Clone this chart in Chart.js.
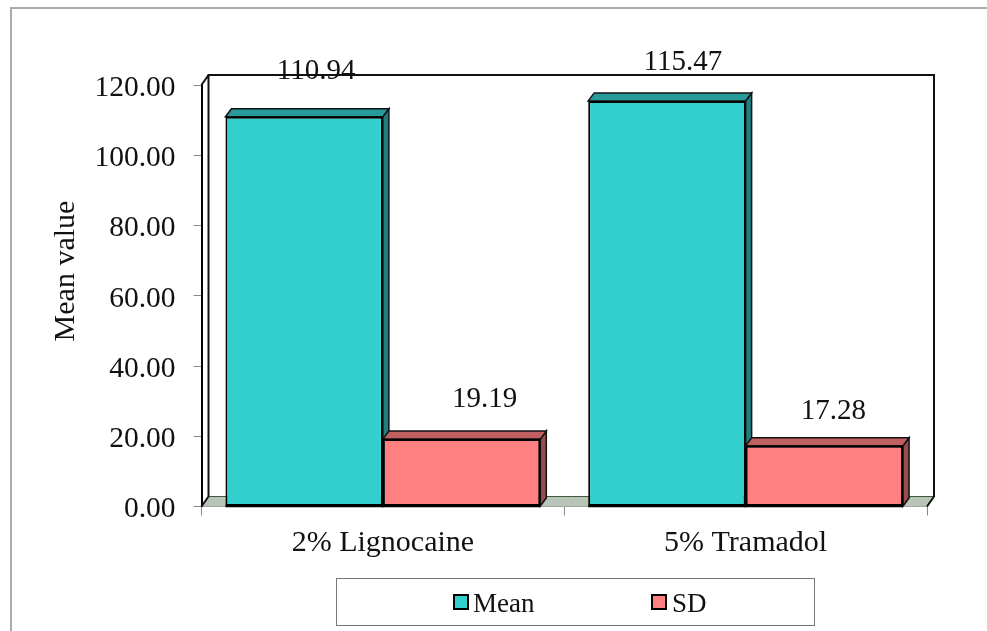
<!DOCTYPE html>
<html>
<head>
<meta charset="utf-8">
<script src="https://cdn.jsdelivr.net/npm/chart.js@4"></script>
<style>
  html, body { margin: 0; background: #fff; }
  #wrap { position: relative; width: 987px; height: 631px; overflow: hidden; font-family: "Liberation Serif", serif; color: #111; }
  #frame { position: absolute; left: 10px; top: 7px; width: 990px; height: 640px; border: 2px solid #aaa; }
  #legend { position: absolute; left: 336px; top: 578px; width: 477px; height: 46px; border: 1px solid #777; font-size: 27px; }
  #legend span { position: absolute; top: 8px; line-height: 32px; white-space: nowrap; }
  #legend i { position: absolute; top: 15px; width: 12px; height: 12px; border: 2px solid #000; }
  canvas { position: absolute; left: 0; top: 0; }
</style>
</head>
<body>
<div id="wrap">
  <div id="frame"></div>
  <canvas id="chart" width="987" height="631"></canvas>
  <div id="legend"></div>
</div>
<script>
const categories = ['2% Lignocaine', '5% Tramadol'];
const meanValues = [110.94, 115.47];
const sdValues = [19.19, 17.28];
const yTicks = [0, 20, 40, 60, 80, 100, 120];

// front, top, side
const meanColors = ['#33CFCF', '#289A9A', '#1F7F7F'];
const sdColors = ['#FF8080', '#C06060', '#954D4D'];

const FONT = '"Liberation Serif", serif';
const BAR_DEPTH = { x: 6, y: 8 };
const WALL_DEPTH = { x: 7, y: 10 };
// hand placed data labels in the original, offset from bar centre / bar top
const labelNudge = [[[12, -45], [16, -39]], [[23, -40], [9, -34]]];

const poly = (ctx, pts, fill, stroke, lw) => {
  ctx.beginPath();
  pts.forEach((p, i) => i ? ctx.lineTo(p[0], p[1]) : ctx.moveTo(p[0], p[1]));
  ctx.closePath();
  if (fill) { ctx.fillStyle = fill; ctx.fill(); }
  if (stroke) { ctx.strokeStyle = stroke; ctx.lineWidth = lw; ctx.stroke(); }
};

const drawDepth = (ctx, meta, colors) => {
  meta.data.forEach(bar => {
    const p = bar.getProps(['x', 'y', 'base', 'width'], true);
    const l = p.x - p.width / 2, r = p.x + p.width / 2;
    const dx = BAR_DEPTH.x, dy = BAR_DEPTH.y;
    poly(ctx, [[r, p.base], [r + dx, p.base - dy], [r + dx, p.y - dy], [r, p.y]], colors[2], '#111', 1.5);
    poly(ctx, [[l, p.y], [l + dx, p.y - dy], [r + dx, p.y - dy], [r, p.y]], colors[1], '#111', 1.5);
  });
};

const walls = {
  id: 'walls',
  beforeDatasetsDraw(chart) {
    const { ctx, chartArea: a } = chart;
    const dx = WALL_DEPTH.x, dy = WALL_DEPTH.y;
    ctx.save();
    // floor
    poly(ctx, [[a.left, a.bottom], [a.left + dx, a.bottom - dy], [a.right + dx, a.bottom - dy], [a.right, a.bottom]], '#B7C4B7', null);
    ctx.strokeStyle = '#3d5a3d';
    ctx.lineWidth = 1;
    ctx.beginPath();
    ctx.moveTo(a.left + dx, a.bottom - dy);
    ctx.lineTo(a.right + dx, a.bottom - dy);
    ctx.stroke();
    // back wall
    ctx.strokeStyle = '#111';
    ctx.lineWidth = 2;
    ctx.beginPath();
    ctx.moveTo(a.left + dx, a.bottom - dy);
    ctx.lineTo(a.left + dx, a.top - dy);
    ctx.lineTo(a.right + dx, a.top - dy);
    ctx.lineTo(a.right + dx, a.bottom - dy);
    ctx.lineTo(a.right, a.bottom);
    ctx.moveTo(a.left, a.bottom);
    ctx.lineTo(a.left + dx, a.bottom - dy);
    ctx.moveTo(a.left, a.top);
    ctx.lineTo(a.left + dx, a.top - dy);
    ctx.stroke();
    ctx.restore();
  }
};

// Chart.js paints the first dataset last, so SD goes again on top of the Mean side face
const barDepth = {
  id: 'barDepth',
  beforeDatasetDraw(chart, args) {
    if (args.index !== 0) return;
    chart.ctx.save();
    drawDepth(chart.ctx, args.meta, meanColors);
    chart.ctx.restore();
  },
  afterDatasetsDraw(chart) {
    const { ctx } = chart;
    const meta = chart.getDatasetMeta(1);
    ctx.save();
    drawDepth(ctx, meta, sdColors);
    meta.data.forEach(bar => bar.draw(ctx));
    // heavy foot line under the bars
    ctx.strokeStyle = '#000';
    ctx.lineWidth = 2.5;
    chart.data.datasets.forEach((ds, d) => {
      chart.getDatasetMeta(d).data.forEach(bar => {
        const p = bar.getProps(['x', 'base', 'width'], true);
        ctx.beginPath();
        ctx.moveTo(p.x - p.width / 2, p.base);
        ctx.lineTo(p.x + p.width / 2, p.base);
        ctx.stroke();
      });
    });
    ctx.restore();
  }
};

const valueLabels = {
  id: 'valueLabels',
  afterDraw(chart) {
    const { ctx } = chart;
    ctx.save();
    ctx.font = '29px ' + FONT;
    ctx.fillStyle = '#111';
    ctx.textAlign = 'center';
    ctx.textBaseline = 'middle';
    chart.data.datasets.forEach((ds, d) => {
      chart.getDatasetMeta(d).data.forEach((bar, i) => {
        const n = labelNudge[d][i];
        ctx.fillText(ds.data[i].toFixed(2), bar.x + n[0], bar.y + n[1]);
      });
    });
    // axis title sits above the axis middle in the original
    ctx.font = '30px ' + FONT;
    ctx.translate(66, 271);
    ctx.rotate(-Math.PI / 2);
    ctx.fillText('Mean value', 0, 0);
    ctx.restore();
  }
};

new Chart(document.getElementById('chart'), {
  type: 'bar',
  data: {
    labels: categories,
    datasets: [
      { label: 'Mean', data: meanValues, backgroundColor: meanColors[0] },
      { label: 'SD', data: sdValues, backgroundColor: sdColors[0] }
    ]
  },
  plugins: [walls, barDepth, valueLabels],
  options: {
    responsive: false,
    animation: false,
    layout: { padding: { left: 50, right: 60, top: 85, bottom: 59.5 } },
    datasets: { bar: { categoryPercentage: 0.868, barPercentage: 1, borderColor: '#000', borderWidth: 2, borderSkipped: false, clip: false } },
    plugins: { legend: { display: false }, tooltip: { enabled: false } },
    scales: {
      x: {
        grid: { offset: true, drawOnChartArea: false, tickLength: 9, color: '#888' },
        border: { color: '#888', width: 1 },
        ticks: { color: '#111', padding: 10, font: { family: FONT, size: 30 } }
      },
      y: {
        min: 0,
        max: 120,
        afterBuildTicks: axis => { axis.ticks = yTicks.map(value => ({ value })); },
        afterFit: axis => { axis.width = 151.5; },
        grid: { drawOnChartArea: false, tickLength: 8, color: '#888' },
        border: { color: '#000', width: 2 },
        ticks: { color: '#111', padding: 18, labelOffset: 3, font: { family: FONT, size: 29.5 }, callback: v => v.toFixed(2) }
      }
    }
  }
});

// legend box
const legend = document.getElementById('legend');
[['Mean', meanColors[0], 116, 136], ['SD', sdColors[0], 314, 335]].forEach(item => {
  const sw = document.createElement('i');
  sw.style.left = item[2] + 'px';
  sw.style.background = item[1];
  const txt = document.createElement('span');
  txt.style.left = item[3] + 'px';
  txt.textContent = item[0];
  legend.append(sw, txt);
});
</script>
</body>
</html>
